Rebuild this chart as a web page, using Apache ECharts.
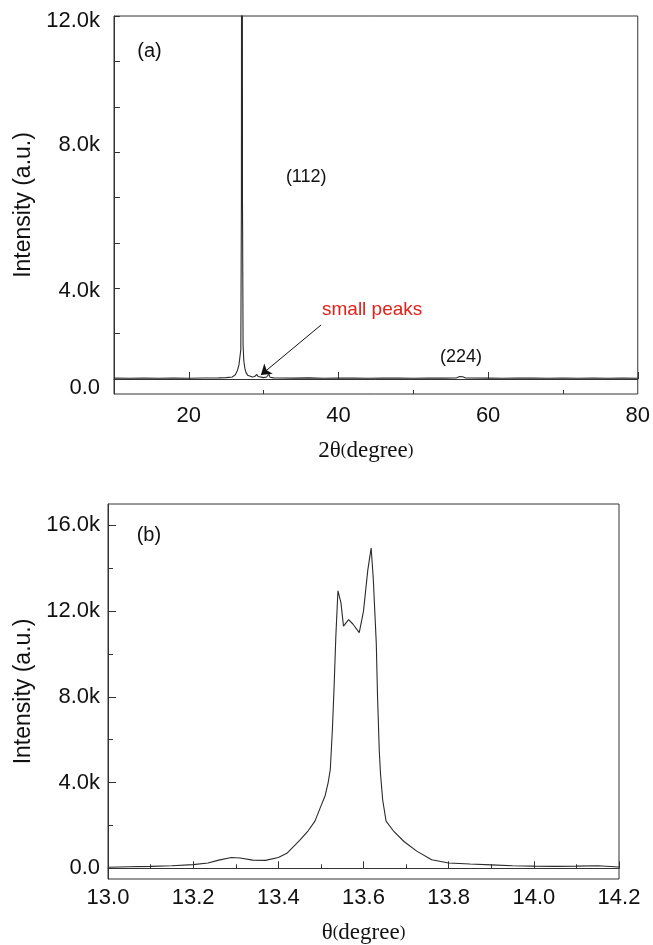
<!DOCTYPE html>
<html>
<head>
<meta charset="utf-8">
<script src="https://cdn.jsdelivr.net/npm/echarts@6/dist/echarts.min.js"></script>
<style>
html,body{margin:0;padding:0;background:#fff;}
#chart{width:653px;height:945px;}
</style>
</head>
<body>
<div id="chart"></div>
<script>
// ---------- Panel (a): 2θ scan ----------
const aTwoTheta = [10, 12, 14, 16, 18, 20, 22, 24, 25, 25.8, 26.2, 26.5, 26.7, 26.85, 26.95, 27.03, 27.1, 27.17, 27.25, 27.35, 27.5, 27.65, 27.85, 28.1, 28.5, 28.8, 29.0, 29.1, 29.25, 29.5, 30.0, 30.4, 30.6, 30.7, 30.85, 31.3, 32, 34, 36, 38, 40, 42, 44, 46, 48, 50, 52, 54, 55.8, 56.2, 56.4, 56.6, 57, 60, 62, 64, 66, 68, 70, 72, 74, 76, 78, 80];
const aIntensity = [40, 30, 45, 35, 40, 30, 45, 50, 60, 90, 180, 380, 620, 700, 1300, 8000, 60000, 8000, 1500, 800, 450, 280, 170, 110, 90, 110, 180, 200, 110, 70, 60, 90, 150, 220, 80, 50, 45, 40, 50, 35, 45, 40, 35, 45, 40, 35, 45, 40, 50, 110, 190, 100, 45, 40, 35, 45, 40, 30, 40, 35, 45, 35, 40, 35];
const aXTickMajor = [20, 40, 60, 80];
const aXTickMinor = [30, 50, 70];
const aYTicks = [0, 2000, 4000, 6000, 8000, 10000, 12000, 14000, 16000];
const aYLabelValues = [-400, 3900, 10300, 15800];
const aYLabelTexts = ['0.0', '4.0k', '8.0k', '12.0k'];

// ---------- Panel (b): θ scan ----------
const bTheta = [13.00, 13.05, 13.10, 13.15, 13.20, 13.235, 13.26, 13.29, 13.31, 13.34, 13.37, 13.40, 13.42, 13.45, 13.47, 13.486, 13.50, 13.51, 13.517, 13.522, 13.527, 13.531, 13.535, 13.540, 13.547, 13.553, 13.565, 13.575, 13.590, 13.600, 13.610, 13.618, 13.623, 13.630, 13.633, 13.637, 13.640, 13.645, 13.653, 13.67, 13.695, 13.725, 13.76, 13.80, 13.85, 13.90, 13.95, 14.00, 14.05, 14.10, 14.15, 14.20];
const bIntensity = [50, 70, 90, 120, 170, 250, 380, 500, 480, 380, 370, 500, 700, 1300, 1750, 2200, 2900, 3400, 4000, 4600, 6500, 8500, 10800, 12950, 12400, 11300, 11600, 11400, 11000, 12000, 13900, 14950, 13500, 10500, 8000, 5500, 4400, 3200, 2200, 1750, 1250, 800, 400, 250, 200, 160, 120, 100, 90, 100, 120, 60];
const bXLabelInterval = 0.2;
const bYTickMajor = [0, 4000, 8000, 12000, 16000];
const bYTickMinor = [2000, 6000, 10000, 14000];

// ---------- annotations ----------
const aNotes = [
  {text: '(a)', x: 14.74, y: 14450, color: '#111', size: 20},
  {text: '(112)', x: 35.69, y: 8900, color: '#111', size: 18},
  {text: 'small peaks', x: 44.5, y: 3040, color: '#e32119', size: 19},
  {text: '(224)', x: 56.38, y: 969, color: '#111', size: 18}
];
const aArrowFrom = [37.67, 2380];
const aArrowTo = [29.63, 176];
const bNotes = [
  {text: '(b)', x: 13.096, y: 15530, color: '#111', size: 20}
];

const SANS = '"Liberation Sans", Arial, sans-serif';
const SERIF = '"Liberation Serif", "Times New Roman", serif';
const AX = '#333';

function fmtK(v) { return v === 0 ? '0.0' : (v / 1000).toFixed(1) + 'k'; }

function notePoints(list) {
  return list.map(n => ({
    coord: [n.x, n.y],
    symbol: 'circle', symbolSize: 0,
    label: {show: true, position: 'inside', formatter: n.text, color: n.color,
            fontSize: n.size, fontFamily: SANS}
  }));
}

const chart = echarts.init(document.getElementById('chart'), null, {renderer: 'canvas'});
const option = {
  animation: false,
  backgroundColor: '#fff',
  grid: [
    {left: 114, top: 16, width: 531, height: 378, show: true, borderColor: AX, borderWidth: 1, backgroundColor: 'transparent'},
    {left: 108, top: 504, width: 511, height: 375, show: true, borderColor: AX, borderWidth: 1, backgroundColor: 'transparent'}
  ],
  xAxis: [
    {
      gridIndex: 0, type: 'value', min: 10, max: 80, position: 'bottom',
      name: '{n|2θ}{p|(}{n|degree}{p|)}', nameLocation: 'middle', nameGap: 45,
      nameTextStyle: {padding: [0, 20, 0, 0], rich: {n: {fontFamily: SERIF, fontSize: 23, color: '#111'}, p: {fontFamily: SERIF, fontSize: 17, color: '#111'}}},
      axisLine: {show: true, lineStyle: {color: AX, width: 1}},
      axisTick: {show: true, inside: true, length: 7, customValues: aXTickMajor, lineStyle: {color: AX}},
      axisLabel: {show: true, customValues: aXTickMajor, fontSize: 22, fontFamily: SANS, color: '#111', margin: 11},
      splitLine: {show: false}
    },
    {
      gridIndex: 0, type: 'value', min: 10, max: 80, position: 'bottom', offset: 0,
      axisLine: {show: false},
      axisTick: {show: true, inside: true, length: 4, customValues: aXTickMinor, lineStyle: {color: AX}},
      axisLabel: {show: false}, splitLine: {show: false}
    },
    {
      gridIndex: 1, type: 'value', min: 13.0, max: 14.2, interval: bXLabelInterval, position: 'bottom',
      name: '{n|θ}{p|(}{n|degree}{p|)}', nameLocation: 'middle', nameGap: 42,
      nameTextStyle: {rich: {n: {fontFamily: SERIF, fontSize: 23, color: '#111'}, p: {fontFamily: SERIF, fontSize: 17, color: '#111'}}},
      axisLine: {show: true, lineStyle: {color: AX, width: 1}},
      axisTick: {show: true, inside: true, length: 7, lineStyle: {color: AX}},
      minorTick: {show: true, splitNumber: 2, length: 4, lineStyle: {color: AX}},
      axisLabel: {show: true, fontSize: 22, fontFamily: SANS, color: '#111', margin: 8,
                  formatter: v => v.toFixed(1), showMinLabel: true, showMaxLabel: true},
      splitLine: {show: false}, minorSplitLine: {show: false}
    }
  ],
  yAxis: [
    {
      gridIndex: 0, type: 'value', min: -661, max: 16000, position: 'left',
      name: 'Intensity (a.u.)', nameLocation: 'middle', nameGap: 79,
      nameTextStyle: {fontFamily: SANS, fontSize: 23, color: '#111'},
      axisLine: {show: true, lineStyle: {color: AX, width: 1}},
      axisTick: {show: true, inside: true, length: 6, customValues: aYTicks, lineStyle: {color: AX}},
      axisLabel: {show: true, customValues: aYLabelValues, fontSize: 22, fontFamily: SANS, color: '#111', margin: 14,
                  formatter: v => { const i = aYLabelValues.indexOf(v); return i >= 0 ? aYLabelTexts[i] : ''; }},
      splitLine: {show: false}
    },
    {
      gridIndex: 1, type: 'value', min: -500, max: 17000, position: 'left',
      name: 'Intensity (a.u.)', nameLocation: 'middle', nameGap: 73,
      nameTextStyle: {fontFamily: SANS, fontSize: 23, color: '#111'},
      axisLine: {show: true, lineStyle: {color: AX, width: 1}},
      axisTick: {show: true, inside: true, length: 8, customValues: bYTickMajor, lineStyle: {color: AX}},
      axisLabel: {show: true, customValues: bYTickMajor, fontSize: 22, fontFamily: SANS, color: '#111', margin: 8, formatter: fmtK},
      splitLine: {show: false}
    },
    {
      gridIndex: 1, type: 'value', min: -500, max: 17000, position: 'left', offset: 0,
      axisLine: {show: false},
      axisTick: {show: true, inside: true, length: 5, customValues: bYTickMinor, lineStyle: {color: AX}},
      axisLabel: {show: false}, splitLine: {show: false}
    }
  ],
  series: [
    {
      type: 'line', xAxisIndex: 0, yAxisIndex: 0, clip: true,
      data: aTwoTheta.map((x, i) => [x, aIntensity[i]]),
      showSymbol: false, symbol: 'none', silent: true,
      lineStyle: {color: '#2a2a2a', width: 1.1},
      markPoint: {silent: true, data: notePoints(aNotes)}
    },
    {
      type: 'line', xAxisIndex: 0, yAxisIndex: 0, clip: false,
      data: [], silent: true,
      markLine: {
        silent: true, symbol: ['none', 'arrow'], symbolSize: 10,
        lineStyle: {color: '#111', width: 1, type: 'solid'},
        itemStyle: {color: '#111'},
        label: {show: false},
        data: [[{coord: aArrowFrom}, {coord: aArrowTo}]]
      }
    },
    {
      type: 'line', xAxisIndex: 2, yAxisIndex: 1, clip: true,
      data: bTheta.map((x, i) => [x, bIntensity[i]]),
      showSymbol: false, symbol: 'none', silent: true,
      lineStyle: {color: '#2a2a2a', width: 1.1},
      markPoint: {silent: true, data: notePoints(bNotes)}
    }
  ]
};
chart.setOption(option);
</script>
</body>
</html>
